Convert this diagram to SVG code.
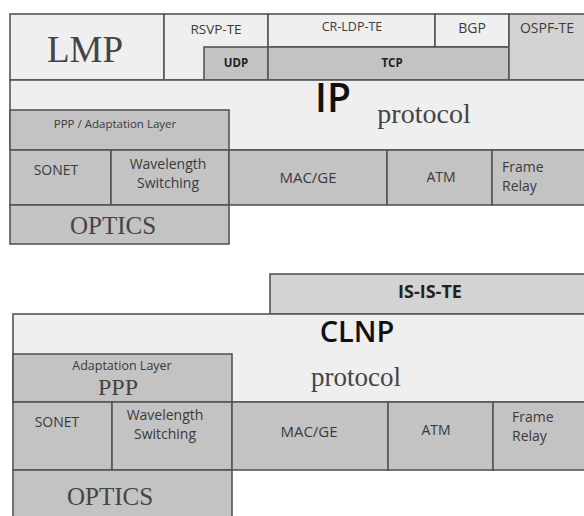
<svg xmlns="http://www.w3.org/2000/svg" width="584" height="516" viewBox="0 0 584 516">
<style>
.lt{fill:#efefef;stroke:#555;stroke-width:1.6}
.gr{fill:#c3c3c3;stroke:#555;stroke-width:1.6}
.mg{fill:#d3d3d3;stroke:#555;stroke-width:1.6}
.s{font-family:"Open Sans","DejaVu Sans",sans-serif;fill:#3a3a3a;text-anchor:middle}
.l{font-family:"Open Sans","DejaVu Sans",sans-serif;fill:#3a3a3a;text-anchor:start}
.b{font-family:"Open Sans","DejaVu Sans",sans-serif;font-weight:bold;fill:#222;text-anchor:middle}
.r{font-family:"Liberation Serif","Times New Roman",serif;fill:#444;text-anchor:middle}
</style>
<rect width="584" height="516" fill="#fff"/>
<!-- Top stack -->
<g id="lmp"><rect class="lt" x="10" y="14" width="154" height="66"/><text class="r" x="85" y="62" font-size="37">LMP</text></g>
<g id="rsvp"><rect class="lt" x="164" y="14" width="104" height="66"/><text class="s" x="216" y="34" font-size="13.5">RSVP-TE</text></g>
<g id="udp"><rect class="gr" x="204" y="47" width="64" height="33"/><text class="b" x="236" y="67" font-size="11.5">UDP</text></g>
<g id="crldp"><rect class="lt" x="268" y="14" width="167" height="33"/><text class="s" x="352" y="31" font-size="12.5">CR-LDP-TE</text></g>
<g id="bgp"><rect class="lt" x="435" y="14" width="74" height="33"/><text class="s" x="472" y="33" font-size="14">BGP</text></g>
<g id="tcp"><rect class="gr" x="268" y="47" width="241" height="33"/><text class="b" x="392" y="67" font-size="11.5">TCP</text></g>
<g id="ospf"><rect class="mg" x="509" y="14" width="78" height="66"/><text class="s" x="547" y="33" font-size="14">OSPF-TE</text></g>
<g id="ip"><rect class="lt" x="10" y="80" width="577" height="70"/><text class="s" x="333" y="112" font-size="39" font-weight="600" style="fill:#111">IP</text><text class="r" x="424" y="123" font-size="28">protocol</text></g>
<g id="ppp1"><rect class="gr" x="10" y="110" width="219" height="40"/><text class="s" x="115" y="128" font-size="11.5">PPP / Adaptation Layer</text></g>
<g id="sonet1"><rect class="gr" x="10" y="150" width="101" height="55"/><text class="s" x="56" y="175" font-size="14">SONET</text></g>
<g id="ws1"><rect class="gr" x="111" y="150" width="118" height="55"/><text class="s" x="168" y="169" font-size="14">Wavelength</text><text class="s" x="168" y="188" font-size="14">Switching</text></g>
<g id="mac1"><rect class="gr" x="229" y="150" width="158" height="55"/><text class="s" x="308" y="183" font-size="15">MAC/GE</text></g>
<g id="atm1"><rect class="gr" x="387" y="150" width="105" height="55"/><text class="s" x="441" y="182" font-size="14">ATM</text></g>
<g id="fr1"><rect class="gr" x="492" y="150" width="95" height="55"/><text class="l" x="502" y="172" font-size="14">Frame</text><text class="l" x="502" y="191" font-size="14">Relay</text></g>
<g id="optics1"><rect class="gr" x="10" y="205" width="219" height="39"/><text class="r" x="113" y="234" font-size="25">OPTICS</text></g>
<!-- Bottom stack -->
<g id="isis"><rect class="mg" x="270" y="274" width="317" height="40"/><text class="b" x="430" y="298" font-size="18">IS-IS-TE</text></g>
<g id="clnp"><rect class="lt" x="13" y="314" width="574" height="88"/><text class="b" x="357" y="342" font-size="29" style="fill:#111;font-weight:600">CLNP</text><text class="r" x="356" y="386" font-size="27">protocol</text></g>
<g id="ppp2"><rect class="gr" x="13" y="354" width="219" height="48"/><text class="s" x="122" y="370" font-size="12.5">Adaptation Layer</text><text class="r" x="118" y="395" font-size="24">PPP</text></g>
<g id="sonet2"><rect class="gr" x="13" y="402" width="99" height="68"/><text class="s" x="57" y="427" font-size="14">SONET</text></g>
<g id="ws2"><rect class="gr" x="112" y="402" width="120" height="68"/><text class="s" x="165" y="420" font-size="14">Wavelength</text><text class="s" x="165" y="439" font-size="14">Switching</text></g>
<g id="mac2"><rect class="gr" x="232" y="402" width="156" height="68"/><text class="s" x="309" y="437" font-size="15">MAC/GE</text></g>
<g id="atm2"><rect class="gr" x="388" y="402" width="105" height="68"/><text class="s" x="436" y="435" font-size="14">ATM</text></g>
<g id="fr2"><rect class="gr" x="493" y="402" width="94" height="68"/><text class="l" x="512" y="422" font-size="14">Frame</text><text class="l" x="512" y="441" font-size="14">Relay</text></g>
<g id="optics2"><rect class="gr" x="13" y="470" width="219" height="50"/><text class="r" x="110" y="505" font-size="25">OPTICS</text></g>
</svg>
